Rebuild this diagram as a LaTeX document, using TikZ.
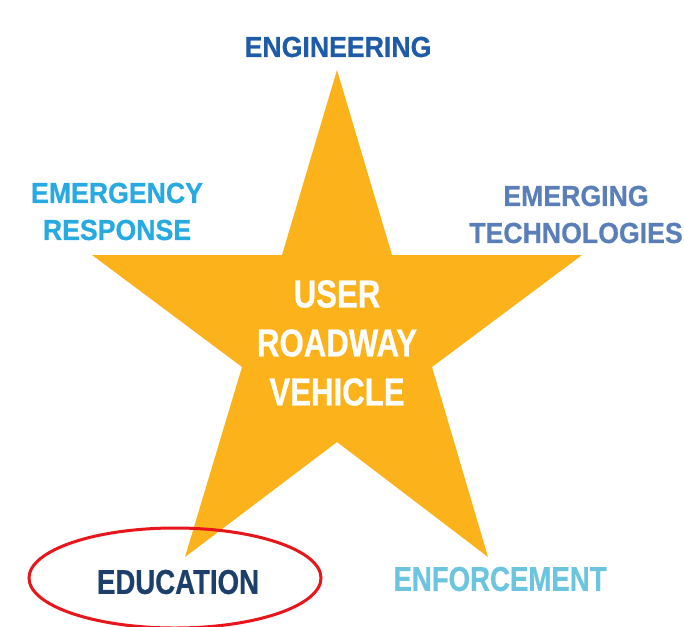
\documentclass[tikz,border=0pt]{standalone}
\usepackage{fontspec}
\setmainfont{Liberation Sans}
\newfontfamily\fnA[FakeStretch=0.92,FakeBold=0.6]{Liberation Sans}
\newfontfamily\fnB[FakeStretch=0.80,FakeBold=0.6]{Liberation Sans}
\definecolor{starc}{HTML}{FBB21B}
\definecolor{engc}{HTML}{1E5BA8}
\definecolor{emrc}{HTML}{27A9E1}
\definecolor{emtc}{HTML}{5A7FB8}
\definecolor{educ}{HTML}{1D3F6B}
\definecolor{enfc}{HTML}{6CC5DF}
\definecolor{ringc}{HTML}{E8151B}
\tikzset{
  lblA/.style={inner sep=0pt, align=center, font=\fnA\bfseries\fontsize{29}{37}\selectfont},
  lblB/.style={inner sep=0pt, align=center, font=\fnB\bfseries\fontsize{34.5}{40}\selectfont},
  core/.style={inner sep=0pt, align=center, text=white, font=\fnB\bfseries\fontsize{39}{49}\selectfont},
  ring/.style={draw=ringc, line width=3pt}
}
\begin{document}
\begin{tikzpicture}[x=1pt,y=-1pt]
\useasboundingbox (0,0) rectangle (684,626);
\fill[white] (0,0) rectangle (684,626);
\fill[starc] (337,70) -- (392,255) -- (582,255) -- (432,367) -- (488,557)
  -- (337,442) -- (185,557) -- (242,367) -- (92,255) -- (282,255) -- cycle;
\node[lblA, text=engc] (eng) at (338,47) {ENGINEERING};
\node[lblA, text=emrc] (emr) at (117,211.5) {EMERGENCY\\RESPONSE};
\node[lblA, text=emtc] (emt) at (576,214.5) {EMERGING\\TECHNOLOGIES};
\node[lblB, text=educ] (edu) at (178,582) {EDUCATION};
\node[lblB, text=enfc] (enf) at (500,579) {ENFORCEMENT};
\node[core] (ctr) at (337,343) {USER\\ROADWAY\\VEHICLE};
\draw[ring] (175,578) ellipse [x radius=146pt, y radius=50pt];
\end{tikzpicture}
\end{document}
